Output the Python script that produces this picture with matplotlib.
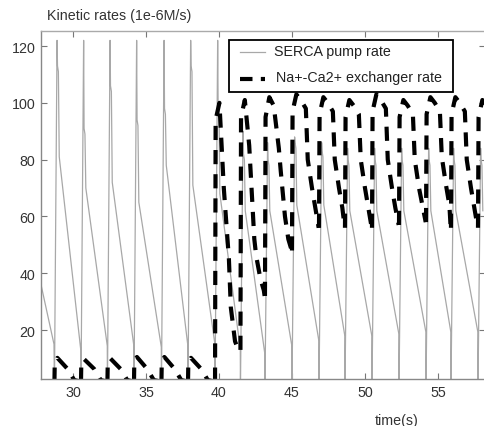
import numpy as np
import matplotlib
matplotlib.use("Agg")
import matplotlib.pyplot as plt
from matplotlib.patches import Rectangle
from matplotlib.lines import Line2D

plt.rcParams['font.family'] = ['Liberation Sans', 'DejaVu Sans']

# ---------------- data ----------------
# spike times of the oscillation (s)
spike_t = [28.73, 30.55, 32.36, 34.18, 36.06, 37.88, 39.73, 41.47, 43.15,
           45.00, 46.85, 48.63, 50.48, 52.33, 54.18, 55.89, 57.74]
# SERCA pump rate: peak, first shoulder, decay start, value just before next spike
serca_peak = [122, 122, 122, 122, 122, 122, 122, 90, 86, 88, 86, 84, 84, 84, 84, 84, 84]
serca_sh1 = [113, 91, 106, 94, 98, 113, 100, 82, 80, 86, 83, 80, 80, 80, 80, 80, 80]
serca_sh2 = [81, 70, 72, 65, 78, 71, 68, 62, 62, 64, 64, 62, 62, 62, 62, 62, 62]
serca_end = [12.7, 14.4, 14.4, 14.0, 14.4, 15.0, 13.4, 11.6, 14.4, 16.2, 17.9,
             17.9, 18.6, 19.3, 19.3, 19.3, 19.3]
serca_start_t = [27.81, 28.70]
serca_start_v = [36.0, 15.0]
# time offsets of SERCA vertices after each spike (s)
serca_off = [0.0, 0.18, 0.21, 0.27, 0.33]

# Na+-Ca2+ exchanger, small oscillations before t=40
ncx_small_base = [1.8, 1.8, 1.8, 1.8, 1.8, 1.8]
ncx_small_rise = [8.0, 8.5, 8.0, 9.0, 8.5, 8.5]
ncx_small_peak = [10.2, 9.8, 10.0, 10.5, 10.5, 10.2]
ncx_small_mid = [6.3, 6.3, 6.3, 6.3, 6.3, 6.3]
ncx_small_low = [2.4, 2.4, 2.4, 2.4, 2.4, 2.4]
ncx_small_off = [0.0, 0.02, 0.2, 0.9, 1.35]
# large oscillations from t=39.73: value at the start of each cycle,
# then values at the offsets in ncx_off
ncx_trough = [1.8, 13, 32, 48, 56, 56, 56, 57, 58, 56, 56]
ncx_off = [0.04, 0.3, 0.6, 0.95, 1.08, 1.37, 1.6]
ncx_a = [94, 95, 95, 97, 96, 95, 97, 95, 96, 96, 95]
ncx_peak = [100, 101, 102, 103, 102, 101, 103, 101, 102, 102, 101]
ncx_b = [70, 85, 99, 101, 100, 99, 101, 99, 100, 100, 99]
ncx_c = [45, 52, 84, 98, 97, 96, 98, 96, 97, 97, 96]
ncx_d = [28, 46, 76, 80, 80, 80, 80, 80, 81, 80, 80]
ncx_e = [16, 38, 60, 70, 70, 70, 70, 70, 71, 70, 70]
ncx_f = [13, 34, 52, 63, 63, 63, 63, 64, 64, 63, 63]

xticks = [30, 35, 40, 45, 50, 55]
yticks = [20, 40, 60, 80, 100, 120]
legend_labels = ['SERCA pump rate', 'Na+-Ca2+ exchanger rate']

# ---------------- build the traces ----------------
st, sv = list(serca_start_t), list(serca_start_v)
for k, t in enumerate(spike_t):
    st += [t + o for o in serca_off]
    sv += [0.0, serca_peak[k], serca_sh1[k], serca_sh1[k] - 2, serca_sh2[k]]
    if k + 1 < len(spike_t):
        st.append(spike_t[k + 1] - 0.01)
        sv.append(serca_end[k])

ncx_cycles = []
n_small = len(ncx_small_peak)
for k in range(n_small):
    t = spike_t[k]
    ct = [t + o for o in ncx_small_off] + [spike_t[k + 1] - 0.02]
    cv = [ncx_small_base[k], ncx_small_rise[k], ncx_small_peak[k],
          ncx_small_mid[k], ncx_small_low[k], ncx_small_base[k]]
    ncx_cycles.append((ct, cv))
for j in range(len(ncx_peak)):
    t = spike_t[n_small + j]
    ct = [t] + [t + o for o in ncx_off]
    cv = [ncx_trough[j], ncx_a[j], ncx_peak[j], ncx_b[j], ncx_c[j],
          ncx_d[j], ncx_e[j], ncx_f[j]]
    if j + 1 < len(ncx_trough):
        ct.append(spike_t[n_small + j + 1] - 0.02)
        cv.append(ncx_trough[j + 1])
    ncx_cycles.append((ct, cv))

# ---------------- figure ----------------
W, H = 484, 427
fig = plt.figure(figsize=(W / 100, H / 100), dpi=100)
ax = fig.add_axes([41 / W, 47 / H, 444 / W, 348 / H])

ax.plot(st, sv, color='#a8a8a8', lw=0.9)
for ct, cv in ncx_cycles:
    ax.plot(ct, cv, color='black', lw=3.0, dashes=(3.4, 2.4))

ax.set_xlim(27.81, 58.22)
ax.set_ylim(2.75, 125.3)
ax.set_xticks(xticks)
ax.set_yticks(yticks)
ax.tick_params(direction='in', length=4, width=0.8, color='#777',
               labelsize=10.3, labelcolor='#333', top=True, right=True, pad=4)
for side, sp in ax.spines.items():
    sp.set_color('#888')
    sp.set_linewidth(1.0)
ax.spines['top'].set_color('#aaa')
ax.spines['right'].set_visible(False)

fig.text(47 / W, 1 - 16 / H, 'Kinetic rates (1e-6M/s)', ha='left',
         va='center', fontsize=10.3, color='#333')
fig.text(397 / W, 1 - 421 / H, 'time(s)', ha='center', va='center',
         fontsize=10.3, color='#333')

# legend box
def fx(px):
    return px / W

def fy(py):
    return 1 - py / H

fig.add_artist(Rectangle((fx(229), fy(93)), fx(453) - fx(229), fy(41) - fy(93),
                         transform=fig.transFigure, facecolor='white',
                         edgecolor='black', lw=1.3, zorder=5))
fig.add_artist(Line2D([fx(240), fx(265)], [fy(53), fy(53)],
                      transform=fig.transFigure, color='#a8a8a8', lw=0.9,
                      zorder=6))
fig.add_artist(Line2D([fx(240), fx(265)], [fy(80), fy(80)],
                      transform=fig.transFigure, color='black', lw=3.0,
                      dashes=(3.0, 2.0), zorder=6))
fig.text(fx(274), fy(52), legend_labels[0], ha='left', va='center',
         fontsize=10.3, color='#222', zorder=6)
fig.text(fx(276), fy(78), legend_labels[1], ha='left', va='center',
         fontsize=10.3, color='#222', zorder=6)

fig.savefig('out.png', dpi=100)
